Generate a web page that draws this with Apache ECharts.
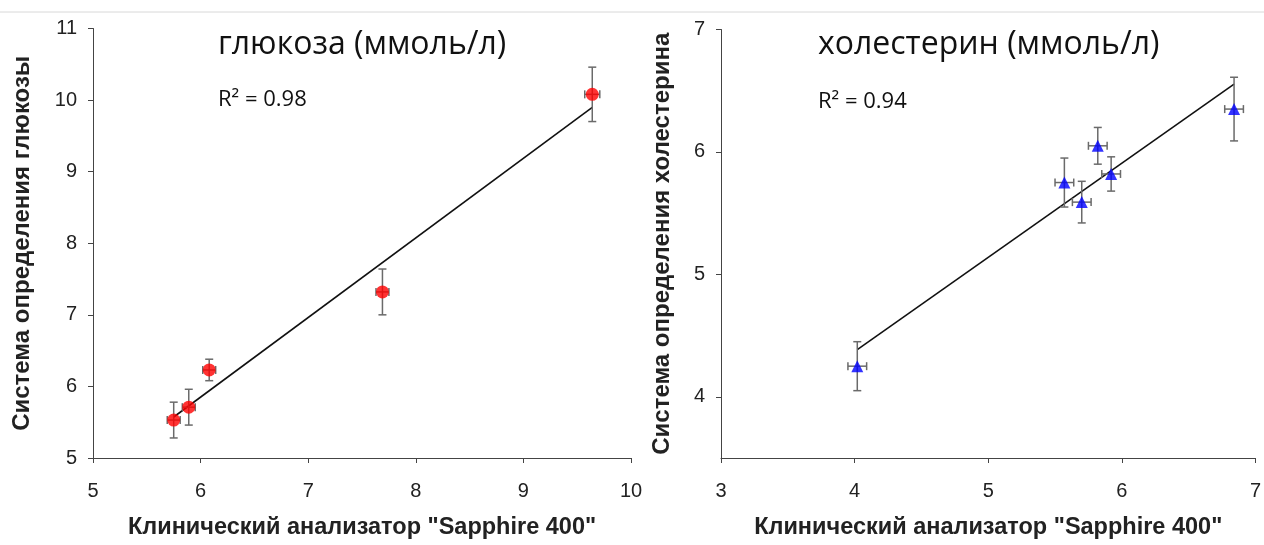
<!DOCTYPE html>
<html><head><meta charset="utf-8">
<script src="https://cdn.jsdelivr.net/npm/echarts@6/dist/echarts.min.js"></script>
<style>html,body{margin:0;padding:0;background:#fff}#c{width:1264px;height:545px}</style>
</head><body><div id="c"></div>
<script>
// ---- data ----
const glucoseX    = [5.75, 5.89, 6.08, 7.69, 9.64];
const glucoseY    = [5.53, 5.71, 6.23, 7.32, 10.08];
const glucoseYErr = [0.25, 0.25, 0.15, 0.32, 0.38];
const glucoseXErr = [0.06, 0.06, 0.06, 0.06, 0.07];

const cholX    = [4.02, 5.57, 5.70, 5.82, 5.92, 6.84];
const cholY    = [4.25, 5.75, 5.59, 6.05, 5.82, 6.35];
const cholYErr = [0.20, 0.20, 0.17, 0.15, 0.14, 0.26];
const cholXErr = [0.07, 0.07, 0.07, 0.07, 0.07, 0.07];

const cholYTicks = [4, 5, 6, 7];

const glucoseTitle = 'глюкоза (ммоль/л)';
const cholTitle = 'холестерин (ммоль/л)';
const glucoseR2 = 'R² = 0.98';
const cholR2 = 'R² = 0.94';
const xAxisTitle = 'Клинический анализатор "Sapphire 400"';
const glucoseYTitle = 'Система определения глюкозы';
const cholYTitle = 'Система определения холестерина';

// ---- helpers ----
function regression(xs, ys) {
  const n = xs.length;
  const mx = xs.reduce((a, b) => a + b, 0) / n;
  const my = ys.reduce((a, b) => a + b, 0) / n;
  let sxy = 0, sxx = 0;
  for (let i = 0; i < n; i++) { sxy += (xs[i] - mx) * (ys[i] - my); sxx += (xs[i] - mx) ** 2; }
  const k = sxy / sxx, b = my - k * mx;
  const x0 = Math.min(...xs), x1 = Math.max(...xs);
  return [[x0, k * x0 + b], [x1, k * x1 + b]];
}
function errData(xs, ys, xe, ye) { return xs.map((x, i) => [x, ys[i], xe[i], ye[i]]); }
function errRender(params, api) {
  const x = api.value(0), y = api.value(1), ex = api.value(2), ey = api.value(3);
  const t = api.coord([x, y + ey]), b = api.coord([x, y - ey]);
  const l = api.coord([x - ex, y]), r = api.coord([x + ex, y]);
  const c = 4;
  const style = { stroke: '#6a6a6a', lineWidth: 1.5, fill: null };
  const ln = (x1, y1, x2, y2) => ({ type: 'line', shape: { x1, y1, x2, y2 }, style });
  return { type: 'group', children: [
    ln(t[0], t[1], b[0], b[1]), ln(t[0] - c, t[1], t[0] + c, t[1]), ln(b[0] - c, b[1], b[0] + c, b[1]),
    ln(l[0], l[1], r[0], r[1]), ln(l[0], l[1] - c, l[0], l[1] + c), ln(r[0], r[1] - c, r[0], r[1] + c)
  ]};
}

const FONT = '"Liberation Sans", Arial, sans-serif';
const axisCommon = {
  axisLine: { show: true, lineStyle: { color: '#444', width: 1 } },
  axisTick: { show: true, inside: false, length: 5, lineStyle: { color: '#444' } },
  splitLine: { show: false },
  axisLabel: { color: '#222', fontSize: 20, fontFamily: FONT },
  nameLocation: 'middle',
  nameTextStyle: { color: '#222', fontSize: 23.5, fontWeight: 'bold', fontFamily: FONT }
};
const yName = { color: '#222', fontSize: 24, fontWeight: 'bold', fontFamily: FONT };

const chart = echarts.init(document.getElementById('c'));
chart.setOption({
  backgroundColor: '#fff',
  animation: false,
  grid: [
    { left: 93, right: 633, top: 28.5, bottom: 86 },
    { left: 721, right: 5, top: 29.5, bottom: 86 }
  ],
  xAxis: [
    Object.assign({}, axisCommon, { gridIndex: 0, type: 'value', min: 5, max: 10, interval: 1,
      name: xAxisTitle, nameGap: 58, axisLabel: Object.assign({}, axisCommon.axisLabel, { margin: 23 }) }),
    Object.assign({}, axisCommon, { gridIndex: 1, type: 'value', min: 3, max: 7, interval: 1,
      name: xAxisTitle, nameGap: 58, axisLabel: Object.assign({}, axisCommon.axisLabel, { margin: 23 }) })
  ],
  yAxis: [
    Object.assign({}, axisCommon, { gridIndex: 0, type: 'value', min: 5, max: 11, interval: 1,
      name: glucoseYTitle, nameGap: 59, nameTextStyle: yName,
      axisLabel: Object.assign({}, axisCommon.axisLabel, { margin: 16 }) }),
    Object.assign({}, axisCommon, { gridIndex: 1, type: 'value', min: 3.5, max: 7, interval: 0.5,
      name: cholYTitle, nameGap: 47, nameTextStyle: yName,
      axisTick: Object.assign({}, axisCommon.axisTick, { customValues: cholYTicks }),
      axisLabel: Object.assign({}, axisCommon.axisLabel, { margin: 16, customValues: cholYTicks }) })
  ],
  graphic: [
    { type: 'line', shape: { x1: 0, y1: 12, x2: 1264, y2: 12 }, style: { stroke: '#d8d8d8', lineWidth: 1 } },
    { type: 'text', left: 218, top: 29, style: { text: glucoseTitle, fontSize: 32, fontFamily: '"Open Sans", sans-serif', fill: '#111' } },
    { type: 'text', left: 218, top: 89, style: { text: glucoseR2, fontSize: 22, fontFamily: '"Open Sans", sans-serif', fill: '#111' } },
    { type: 'text', left: 818, top: 29, style: { text: cholTitle, fontSize: 32, fontFamily: '"Open Sans", sans-serif', fill: '#111' } },
    { type: 'text', left: 818, top: 91, style: { text: cholR2, fontSize: 22, fontFamily: '"Open Sans", sans-serif', fill: '#111' } }
  ],
  series: [
    { type: 'line', xAxisIndex: 0, yAxisIndex: 0, data: regression(glucoseX, glucoseY), showSymbol: false,
      lineStyle: { color: '#111', width: 1.6 }, z: 2 },
    { type: 'custom', xAxisIndex: 0, yAxisIndex: 0, renderItem: errRender,
      data: errData(glucoseX, glucoseY, glucoseXErr, glucoseYErr), encode: { x: 0, y: 1 }, z: 3 },
    { type: 'scatter', xAxisIndex: 0, yAxisIndex: 0, data: glucoseX.map((x, i) => [x, glucoseY[i]]),
      symbol: 'circle', symbolSize: 13, itemStyle: { color: '#ff0000' }, z: 4 },

    { type: 'line', xAxisIndex: 1, yAxisIndex: 1, data: regression(cholX, cholY), showSymbol: false,
      lineStyle: { color: '#111', width: 1.6 }, z: 2 },
    { type: 'custom', xAxisIndex: 1, yAxisIndex: 1, renderItem: errRender,
      data: errData(cholX, cholY, cholXErr, cholYErr), encode: { x: 0, y: 1 }, z: 3 },
    { type: 'scatter', xAxisIndex: 1, yAxisIndex: 1, data: cholX.map((x, i) => [x, cholY[i]]),
      symbol: 'triangle', symbolSize: 12, itemStyle: { color: '#0000ff' }, z: 4 }
  ]
});
</script>
</body></html>
